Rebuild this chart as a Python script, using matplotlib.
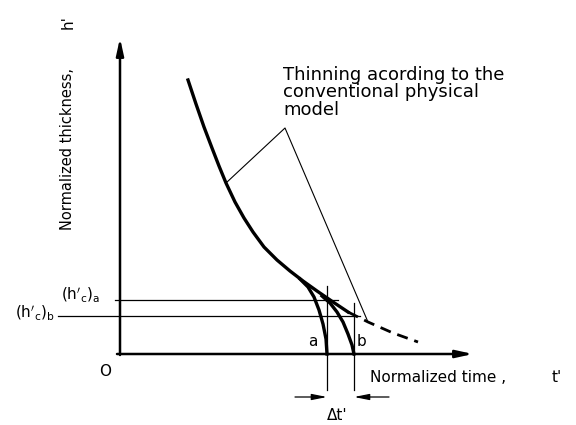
import numpy as np
from matplotlib import pyplot as plt

# Normalized time t' and thickness h' along the thinning curve
main_t = [0.68, 0.76, 0.84, 0.92, 0.99, 1.06, 1.15, 1.24, 1.33, 1.44,
          1.57, 1.70, 1.83, 1.97, 2.13, 2.28]
main_h = [2.74, 2.50, 2.27, 2.06, 1.88, 1.71, 1.52, 1.36, 1.22, 1.07,
          0.94, 0.83, 0.73, 0.63, 0.52, 0.42]

# Conventional model continuation (dashed)
conv_t = [2.28, 2.48, 2.73, 2.98]
conv_h = [0.42, 0.32, 0.21, 0.12]

# Rupture branches a and b
branch_a_t = [1.80, 1.88, 1.94, 1.99, 2.03, 2.06, 2.07]
branch_a_h = [0.75, 0.67, 0.57, 0.44, 0.30, 0.15, 0.00]
branch_b_t = [2.02, 2.10, 2.17, 2.23, 2.28, 2.32, 2.34]
branch_b_h = [0.58, 0.51, 0.42, 0.32, 0.20, 0.09, 0.00]

# Critical thicknesses and rupture times
hc_a = 0.54
hc_b = 0.38
t_a = 2.07
t_b = 2.34

# Leader line from the annotation to both curves
leader_t = [1.06, 1.65, 2.48]
leader_h = [1.71, 2.26, 0.32]

fig = plt.figure(figsize=(5.76, 4.25), dpi=100)
ax = fig.add_axes([0, 0, 1, 1])
ax.set_xlim(-1.20, 4.56)
ax.set_ylim(-0.71, 3.54)
ax.axis('off')

arrow = dict(arrowstyle='-|>,head_length=1.0,head_width=0.22', lw=1.8, color='k',
             shrinkA=0, shrinkB=0)
ax.annotate('', xy=(0, 3.16), xytext=(0, -0.01), arrowprops=arrow)
ax.annotate('', xy=(3.53, 0), xytext=(-0.03, 0), arrowprops=arrow)

ax.plot(main_t, main_h, color='k', lw=2.4, solid_joinstyle='round')
ax.plot(conv_t, conv_h, color='k', lw=2.0, linestyle=(0, (4, 2.5)))
ax.plot(branch_a_t, branch_a_h, color='k', lw=2.4, solid_joinstyle='round')
ax.plot(branch_b_t, branch_b_h, color='k', lw=2.4, solid_joinstyle='round')
ax.plot(leader_t, leader_h, color='k', lw=0.8)

ax.plot([-0.05, 2.18], [hc_a, hc_a], color='k', lw=0.9)
ax.plot([-0.62, 2.40], [hc_b, hc_b], color='k', lw=0.9)
ax.plot([t_a, t_a], [0.68, -0.36], color='k', lw=0.9)
ax.plot([t_b, t_b], [0.51, -0.36], color='k', lw=0.9)

small = dict(arrowstyle='-|>,head_length=0.9,head_width=0.18', lw=0.9, color='k',
             shrinkA=0, shrinkB=0)
ax.annotate('', xy=(t_a, -0.43), xytext=(1.75, -0.43), arrowprops=small)
ax.annotate('', xy=(t_b, -0.43), xytext=(2.69, -0.43), arrowprops=small)

fs = 11
ax.text(-0.15, -0.17, 'O', fontsize=fs, ha='center', va='center')
ax.text(2.50, -0.24, 'Normalized time ,', fontsize=fs, ha='left', va='center')
ax.text(4.32, -0.24, "t'", fontsize=fs, ha='left', va='center')
ax.text(-0.52, 2.05, 'Normalized thickness,', fontsize=10.5, rotation=90,
        ha='center', va='center')
ax.text(-0.52, 3.32, "h'", fontsize=fs, rotation=90, ha='center', va='center')
ax.text(1.63, 2.88, 'Thinning acording to the\nconventional physical\nmodel',
        fontsize=13, ha='left', va='top', linespacing=0.95)
ax.text(-0.20, 0.60, r"$(\mathrm{h}'_\mathrm{c})_\mathrm{a}$", fontsize=fs,
        ha='right', va='center')
ax.text(-0.65, 0.42, r"$(\mathrm{h}'_\mathrm{c})_\mathrm{b}$", fontsize=fs,
        ha='right', va='center')
ax.text(1.93, 0.12, 'a', fontsize=fs, ha='center', va='center')
ax.text(2.42, 0.12, 'b', fontsize=fs, ha='center', va='center')
ax.text(2.17, -0.61, "Δt'", fontsize=fs, ha='center', va='center')

fig.savefig('out.png', dpi=100)
